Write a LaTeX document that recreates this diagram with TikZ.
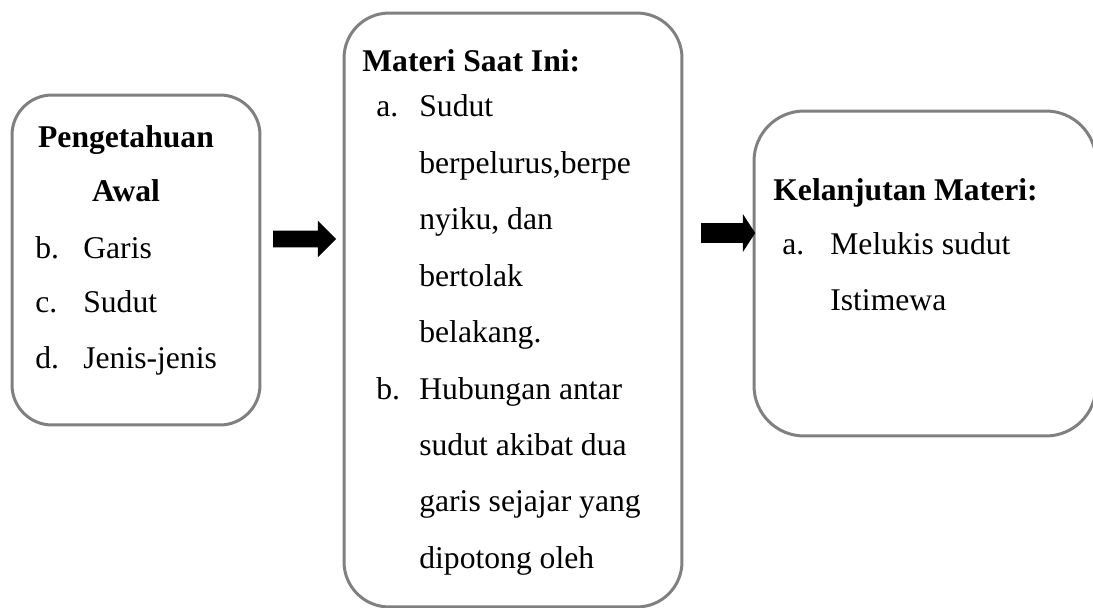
\documentclass[tikz,border=0pt]{standalone}
\usepackage{fontspec}
\setmainfont{Liberation Serif}
\usetikzlibrary{shapes.arrows}

\definecolor{boxgray}{RGB}{128,128,128}

\tikzset{
    stage/.style={draw=boxgray, line width=0.06cm, rectangle, inner sep=0pt},
    txt/.style={anchor=base west, inner sep=0pt, font=\fontsize{18}{22}\selectfont},
    heading/.style={inner sep=0pt, font=\fontsize{18}{22}\selectfont\bfseries},
    flow/.style={single arrow, fill=black, draw=none, inner xsep=0pt}
}

\begin{document}
\begin{tikzpicture}[x=0.02cm, y=-0.02cm]
    \useasboundingbox (0,0) rectangle (1093,608);

    \node[stage, minimum width=4.96cm, minimum height=6.6cm, rounded corners=0.8cm] (awal) at (136,260) {};
    \node[stage, minimum width=6.76cm, minimum height=11.88cm, rounded corners=0.9cm] (kini) at (513,310) {};
    \node[stage, minimum width=6.84cm, minimum height=6.5cm, rounded corners=1.0cm] (lanjut) at (925,273.5) {};

    \node[heading, anchor=base] (awal-h1) at (126,148) {Pengetahuan};
    \node[heading, anchor=base] (awal-h2) at (126,202) {Awal};
    \node[txt] (awal-b) at (35,258) {b.};
    \node[txt] (awal-1) at (83,258) {Garis};
    \node[txt] (awal-c) at (35,313) {c.};
    \node[txt] (awal-2) at (83,313) {Sudut};
    \node[txt] (awal-d) at (35,368) {d.};
    \node[txt] (awal-3) at (83,368) {Jenis-jenis};

    \node[heading, anchor=base west] (kini-h) at (362,72) {Materi Saat Ini:};
    \node[txt] (kini-a) at (376,117) {a.};
    \node[txt] (kini-1) at (419,117) {Sudut};
    \node[txt] (kini-2) at (419,173.4) {berpelurus,berpe};
    \node[txt] (kini-3) at (419,229.8) {nyiku, dan};
    \node[txt] (kini-4) at (419,286.2) {bertolak};
    \node[txt] (kini-5) at (419,342.6) {belakang.};
    \node[txt] (kini-b) at (376,399) {b.};
    \node[txt] (kini-6) at (419,399) {Hubungan antar};
    \node[txt] (kini-7) at (419,455.4) {sudut akibat dua};
    \node[txt] (kini-8) at (419,511.8) {garis sejajar yang};
    \node[txt] (kini-9) at (419,568.2) {dipotong oleh};

    \node[heading, anchor=base west] (lanjut-h) at (773,200) {Kelanjutan Materi:};
    \node[txt] (lanjut-a) at (782,255) {a.};
    \node[txt] (lanjut-1) at (830,255) {Melukis sudut};
    \node[txt] (lanjut-2) at (830,310) {Istimewa};

    % block arrows between the boxes
    \node[flow, inner ysep=0.16cm, minimum height=1.26cm, single arrow head extend=0.2cm, single arrow tip angle=90] (panah1) at (300.5,239) {};
    \node[flow, inner ysep=0.19cm, minimum height=1.08cm, single arrow head extend=0.18cm, single arrow tip angle=114] (panah2) at (725,233) {};
\end{tikzpicture}
\end{document}
